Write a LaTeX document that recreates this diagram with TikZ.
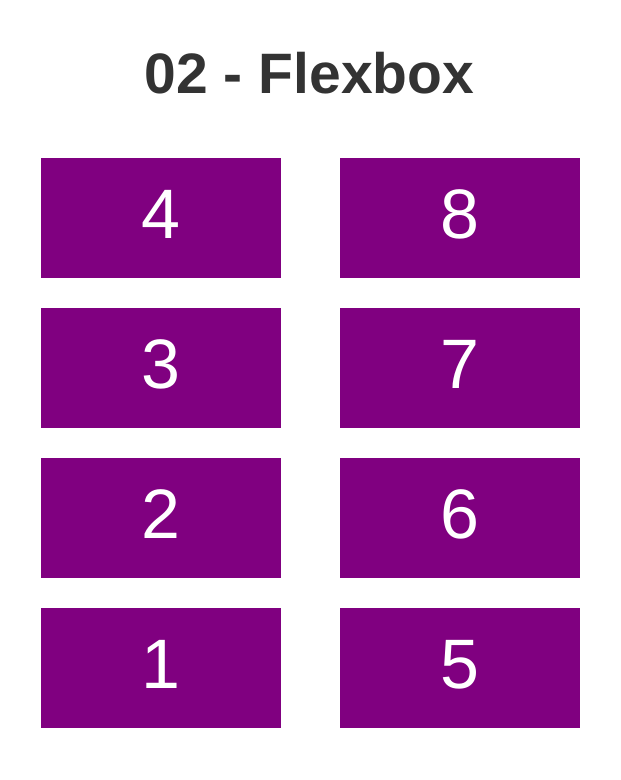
\documentclass[tikz,border=0pt]{standalone}
\usepackage{fontspec}
\setmainfont{Liberation Sans}
\definecolor{boxpurple}{HTML}{800080}
\definecolor{titlegray}{HTML}{333333}
\begin{document}
\begin{tikzpicture}[x=1pt,y=-1pt,
  flexbox/.style={fill=boxpurple,draw=none,minimum width=240pt,minimum height=120pt,inner sep=0pt,anchor=north west},
  numlabel/.style={text=white,font=\fontsize{70}{70}\selectfont,anchor=base,inner sep=0pt},
  titlelabel/.style={text=titlegray,font=\fontsize{57}{57}\selectfont\bfseries,anchor=base,inner sep=0pt}]
\useasboundingbox (0,0) rectangle (621,780);
\node[titlelabel] (title) at (309.5,93) {02 - Flexbox};
\foreach \n/\x/\y in {4/41/158,3/41/308,2/41/458,1/41/608,8/340/158,7/340/308,6/340/458,5/340/608}{
  \node[flexbox] (box\n) at (\x,\y) {};
  \node[numlabel] (num\n) at ([yshift=-80pt]box\n.north) {\n};
}
\end{tikzpicture}
\end{document}
